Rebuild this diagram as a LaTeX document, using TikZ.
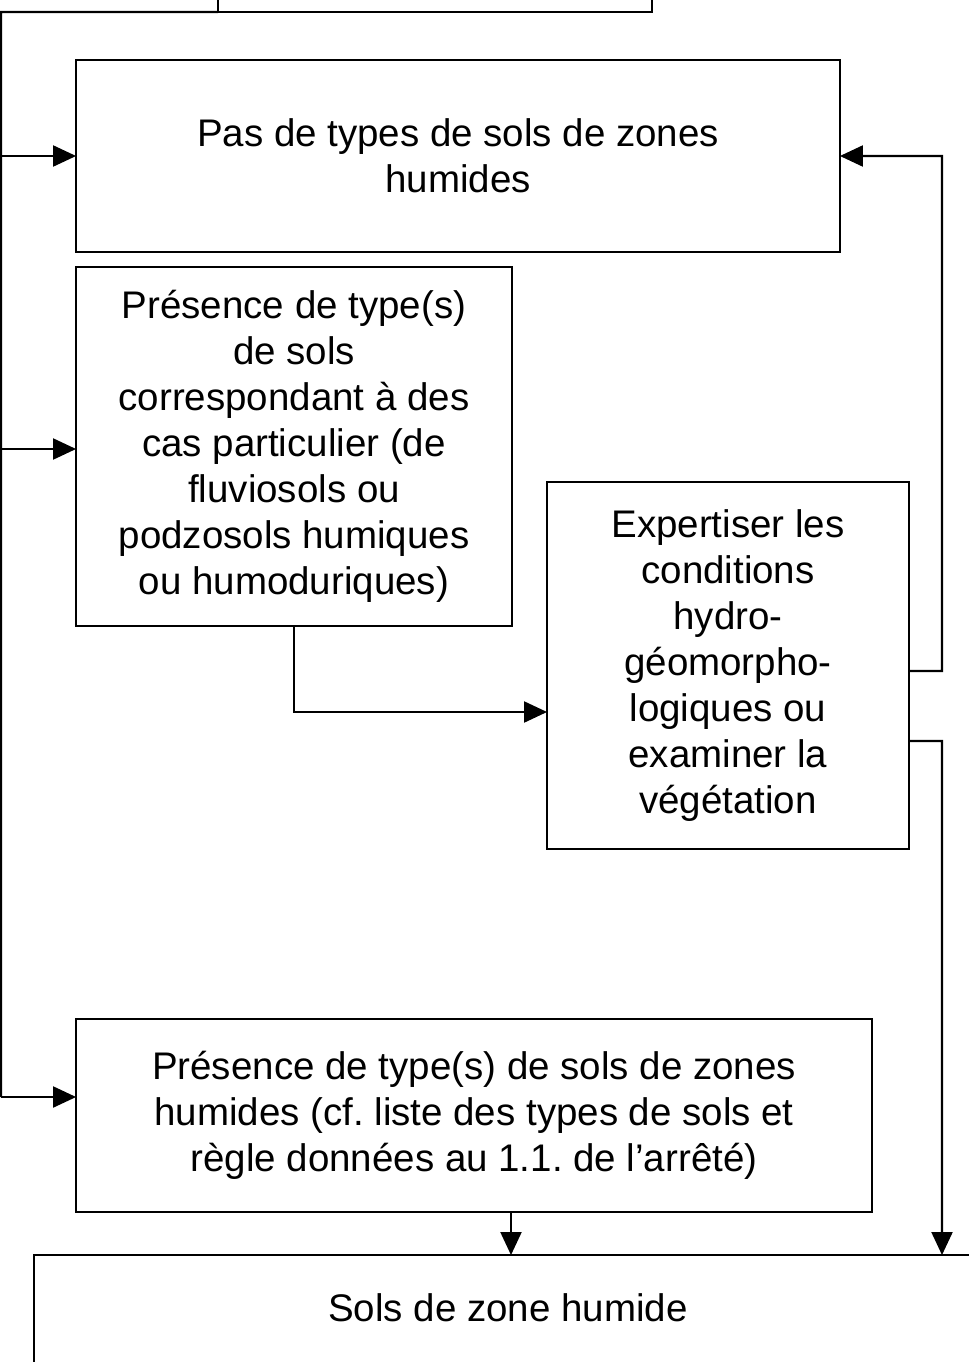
\documentclass[tikz,border=0pt]{standalone}
\usepackage{fontspec}
\setmainfont{Liberation Sans}
\usepackage{tikz}
\usetikzlibrary{arrows.meta,positioning,calc}
\frenchspacing
\tikzset{
    box/.style={rectangle, draw=black, line width=1.2pt, inner sep=0pt, outer sep=0pt, align=center,
        font=\fontsize{21.9}{26.2}\selectfont},
    boxtxt/.style={inner sep=0pt, align=center, font=\fontsize{21.9}{26.2}\selectfont},
    leg/.style={line width=1.2pt, black},
    arr/.style={line width=1.2pt, black, -{Triangle[length=0.46cm, width=0.42cm]}},
}

\begin{document}
\begin{tikzpicture}[x=0.02cm, y=-0.02cm]
    \useasboundingbox (0,0) rectangle (969,1362);
    \clip (0,0) rectangle (969,1362);
    \node[box, minimum width=8.68cm, minimum height=1.84cm] (top) at (435,-34) {};
    \node[box, minimum width=15.28cm, minimum height=3.84cm] (nosoil) at (458,156)
        {Pas de types de sols de zones\\humides};
    \node[box, minimum width=8.72cm, minimum height=7.18cm] (special) at (294,446.5)
        {Présence de type(s)\\de sols\\correspondant à des\\cas particulier (de\\fluviosols ou\\podzosols humiques\\ou humoduriques)};
    \node[box, minimum width=7.24cm, minimum height=7.34cm] (expert) at (728,665.5)
        {Expertiser les\\conditions\\hydro-\\géomorpho-\\logiques ou\\examiner la\\végétation};
    \node[box, minimum width=15.92cm, minimum height=3.86cm] (wetsoil) at (474,1115.5)
        {Présence de type(s) de sols de zones\\humides (cf. liste des types de sols et\\règle données au 1.1. de l’arrêté)};
    \node[box, minimum width=18.96cm, minimum height=4cm] (result) at (508,1355) {};
    \node[boxtxt] (resulttxt) at (508,1308) {Sols de zone humide};

    % left trunk
    \coordinate (trunk) at (1,12);
    \coordinate (toWet) at ($(wetsoil.west)+(0,-18.5)$);
    \draw[leg] (top.south west) -- (trunk) -- (trunk |- toWet);
    \draw[arr] (trunk |- nosoil.west) -- (nosoil.west);
    \draw[arr] ($(trunk |- special.west)+(0,2.5)$) -- ($(special.west)+(0,2.5)$);
    \draw[arr] (trunk |- toWet) -- (toWet);

    % special cases -> expertise
    \draw[arr] (special.south) |- ($(expert.west)+(0,46.5)$);

    % expertise -> no wetland soil / wetland soil
    \coordinate (rup) at (942,671);
    \coordinate (rdown) at (942,741);
    \draw[arr] ($(expert.east)+(0,5.5)$) -- (rup) |- (nosoil.east);
    \draw[arr] ($(expert.east)+(0,75.5)$) -- (rdown) -- (rdown |- result.north);

    % wetland soil -> result
    \coordinate (fromWet) at ($(wetsoil.south)+(37,0)$);
    \draw[arr] (fromWet) -- (fromWet |- result.north);
\end{tikzpicture}
\end{document}
